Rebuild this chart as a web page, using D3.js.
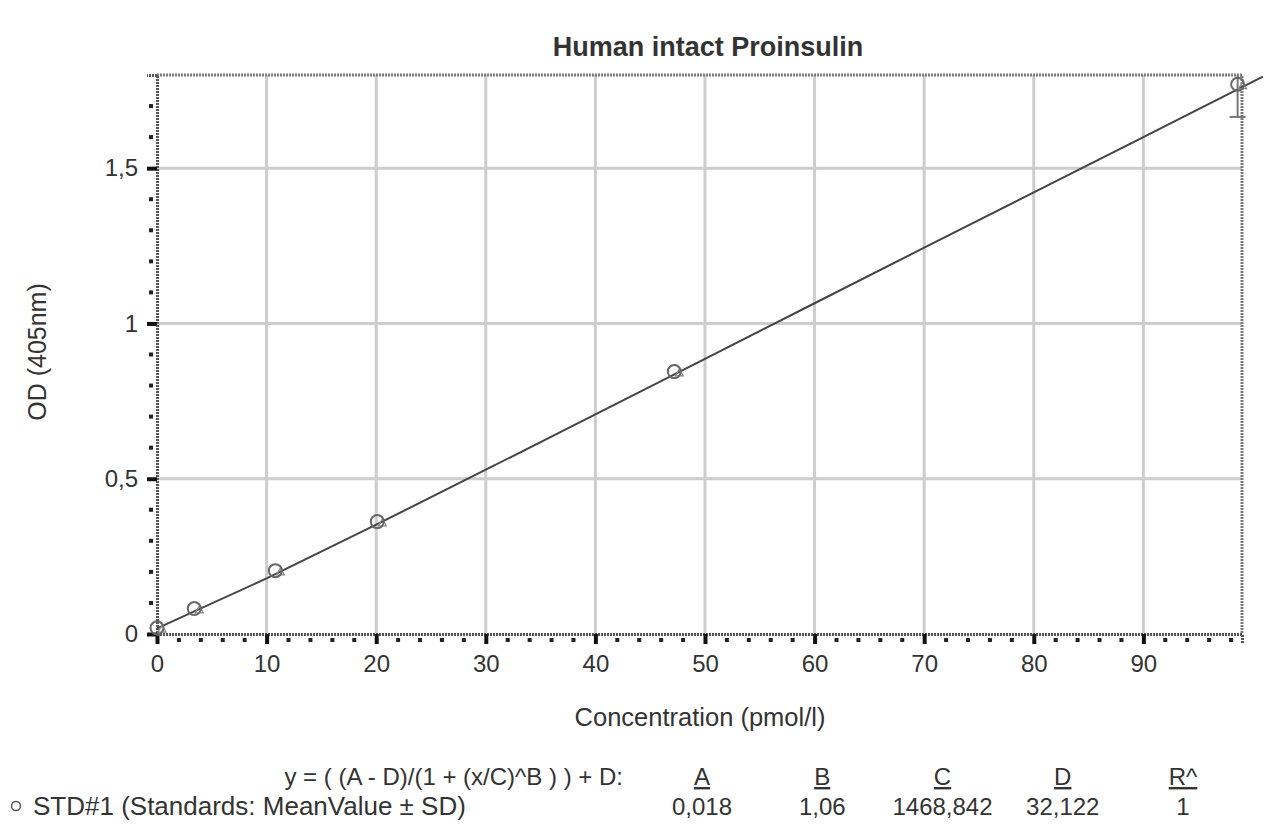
<!DOCTYPE html>
<html>
<head>
<meta charset="utf-8">
<script src="https://cdn.jsdelivr.net/npm/d3@7"></script>
<style>
  body { margin: 0; background: #fff; }
  text { font-family: "Liberation Sans", Arial, sans-serif; fill: #333; }
</style>
</head>
<body>
<div id="chart"></div>
<script>
// standards (concentration, mean OD)
var stdConc = [0, 3.4, 10.8, 20.1, 47.2, 98.6];
var stdOD = [0.02, 0.082, 0.204, 0.362, 0.845, 1.77];
var stdSDlow = [0.02, 0.082, 0.204, 0.362, 0.845, 1.665];
var stdSDhigh = [0.02, 0.082, 0.204, 0.362, 0.845, 1.875];
// fitted curve
var fitConc = [0, 10, 20, 30, 40, 50, 60, 70, 80, 90, 100.9];
var fitOD = [0.018, 0.179, 0.352, 0.529, 0.707, 0.886, 1.065, 1.244, 1.422, 1.6, 1.795];
var xTicks = [0, 10, 20, 30, 40, 50, 60, 70, 80, 90];
var yTicks = [0, 0.5, 1, 1.5];
var paramNames = ["A", "B", "C", "D", "R^"];
var paramValues = ["0,018", "1,06", "1468,842", "32,122", "1"];

var W = 1280, H = 836;
var margin = {top: 75, right: 38, bottom: 202, left: 157};
var width = W - margin.left - margin.right,
    height = H - margin.top - margin.bottom;

var svg = d3.select("#chart").append("svg")
    .attr("width", W)
    .attr("height", H);

var x = d3.scaleLinear().domain([0, 99]).range([0, width]);
var y = d3.scaleLinear().domain([0, 1.8]).range([height, 0]);
var fmt = function(d) { return String(d).replace(".", ","); };

var g = svg.append("g")
    .attr("transform", "translate(" + margin.left + "," + margin.top + ")");

svg.append("defs").append("clipPath").attr("id", "clip")
  .append("rect").attr("width", width).attr("height", height);

// grid
g.selectAll(".vgrid").data(xTicks.slice(1)).enter().append("line")
    .attr("x1", function(d) { return x(d); }).attr("x2", function(d) { return x(d); })
    .attr("y1", 0).attr("y2", height)
    .attr("stroke", "#cdcdcd").attr("stroke-width", 3);
g.selectAll(".hgrid").data(yTicks.slice(1)).enter().append("line")
    .attr("y1", function(d) { return y(d); }).attr("y2", function(d) { return y(d); })
    .attr("x1", 0).attr("x2", width)
    .attr("stroke", "#cdcdcd").attr("stroke-width", 3);

// frame (top/right)
g.append("path")
    .attr("d", "M0,0H" + width + "V" + height)
    .attr("fill", "none").attr("stroke", "#7a7a7a").attr("stroke-width", 3)
    .attr("stroke-dasharray", "2,1");

// x axis
var xAxis = g.append("g")
    .attr("transform", "translate(0," + height + ")")
    .call(d3.axisBottom(x).tickValues(xTicks).tickSize(10).tickPadding(11).tickFormat(fmt));
xAxis.select(".domain").attr("stroke", "#555").attr("stroke-width", 3).attr("stroke-dasharray", "2,1");
xAxis.selectAll(".tick line").attr("stroke", "#111").attr("stroke-width", 4);
xAxis.selectAll("text").style("font-size", "24px").attr("fill", "#333");

var xMinor = d3.range(2, 99, 2).filter(function(d) { return d % 10 !== 0; });
g.selectAll(".xminor").data(xMinor).enter().append("rect")
    .attr("x", function(d) { return x(d) - 2; })
    .attr("y", height + 4)
    .attr("width", 4).attr("height", 4)
    .attr("fill", "#222");

// y axis
var yAxis = g.append("g")
    .call(d3.axisLeft(y).tickValues(yTicks).tickSize(10).tickPadding(9).tickFormat(fmt));
yAxis.select(".domain").attr("stroke", "#555").attr("stroke-width", 3).attr("stroke-dasharray", "2,1");
yAxis.selectAll(".tick line").attr("stroke", "#111").attr("stroke-width", 4);
yAxis.selectAll("text").style("font-size", "24px").attr("fill", "#333");

var yMinor = d3.range(1, 18).map(function(d) { return d / 10; }).filter(function(d, i) { return (i + 1) % 5 !== 0; });
g.selectAll(".yminor").data(yMinor).enter().append("rect")
    .attr("x", -8)
    .attr("y", function(d) { return y(d) - 2; })
    .attr("width", 4).attr("height", 4)
    .attr("fill", "#222");

// fit curve (runs a bit past the frame like the original)
var fit = fitConc.map(function(c, i) { return {c: c, od: fitOD[i]}; });
g.append("path")
    .datum(fit)
    .attr("fill", "none")
    .attr("stroke", "#444")
    .attr("stroke-width", 2)
    .attr("d", d3.line().x(function(d) { return x(d.c); }).y(function(d) { return y(d.od); }));

// standards
var pts = stdConc.map(function(c, i) { return {c: c, od: stdOD[i], lo: stdSDlow[i], hi: stdSDhigh[i]}; });
var err = g.append("g").attr("clip-path", "url(#clip)");
err.selectAll(".err").data(pts.filter(function(d) { return d.hi > d.lo; })).enter().append("line")
    .attr("x1", function(d) { return x(d.c); }).attr("x2", function(d) { return x(d.c); })
    .attr("y1", function(d) { return y(d.lo); }).attr("y2", function(d) { return y(d.hi); })
    .attr("stroke", "#777").attr("stroke-width", 2);
g.selectAll(".cap").data(pts.filter(function(d) { return d.hi > d.lo; })).enter().append("line")
    .attr("x1", function(d) { return x(d.c) - 8; }).attr("x2", function(d) { return x(d.c) + 8; })
    .attr("y1", function(d) { return y(d.lo); }).attr("y2", function(d) { return y(d.lo); })
    .attr("stroke", "#777").attr("stroke-width", 2);

g.selectAll(".rep").data(pts).enter().append("path")
    .attr("transform", function(d) { return "translate(" + (x(d.c) + 5) + "," + (y(d.od) + 2) + ")"; })
    .attr("d", d3.symbol().type(d3.symbolTriangle).size(28))
    .attr("fill", "none").attr("stroke", "#888").attr("stroke-width", 1.2);
g.selectAll(".pt").data(pts).enter().append("circle")
    .attr("cx", function(d) { return x(d.c); })
    .attr("cy", function(d) { return y(d.od); })
    .attr("r", 6.5)
    .attr("fill", "none").attr("stroke", "#666").attr("stroke-width", 2);

// titles
svg.append("text")
    .attr("x", 708).attr("y", 56)
    .attr("text-anchor", "middle")
    .style("font-size", "27px").style("font-weight", "bold")
    .attr("fill", "#333")
    .text("Human intact Proinsulin");
svg.append("text")
    .attr("x", 700).attr("y", 726)
    .attr("text-anchor", "middle")
    .style("font-size", "25.5px")
    .text("Concentration (pmol/l)");
svg.append("text")
    .attr("transform", "translate(46,352) rotate(-90)")
    .attr("text-anchor", "middle")
    .style("font-size", "25px")
    .text("OD (405nm)");

// legend / fit parameters
var cols = d3.scalePoint().domain(paramNames).range([702, 1183]);
svg.append("text")
    .attr("x", 623).attr("y", 785)
    .attr("text-anchor", "end")
    .style("font-size", "24px")
    .text("y = ( (A - D)/(1 + (x/C)^B ) ) + D:");
svg.selectAll(".pname").data(paramNames).enter().append("text")
    .attr("x", function(d) { return cols(d); }).attr("y", 785)
    .attr("text-anchor", "middle")
    .style("font-size", "24px")
    .style("text-decoration", "underline")
    .text(function(d) { return d; });
svg.append("circle")
    .attr("cx", 16).attr("cy", 806).attr("r", 4.5)
    .attr("fill", "none").attr("stroke", "#555").attr("stroke-width", 1.5);
svg.append("text")
    .attr("x", 33).attr("y", 815)
    .style("font-size", "26px")
    .text("STD#1 (Standards: MeanValue \u00b1 SD)");
svg.selectAll(".pval").data(paramValues).enter().append("text")
    .attr("x", function(d, i) { return cols(paramNames[i]); }).attr("y", 815)
    .attr("text-anchor", "middle")
    .style("font-size", "24px")
    .text(function(d) { return d; });
</script>
</body>
</html>
